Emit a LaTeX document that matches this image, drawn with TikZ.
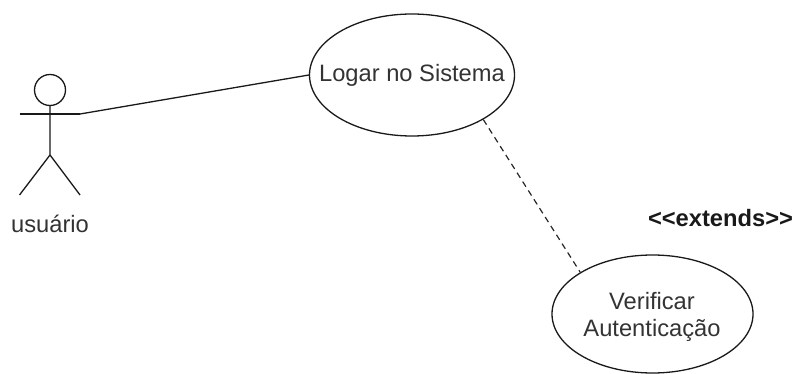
\documentclass[tikz,border=0pt]{standalone}
\usepackage{fontspec}
\usetikzlibrary{shapes.geometric}
\setmainfont{Liberation Sans}
\begin{document}
\begin{tikzpicture}[x=1pt,y=-1pt,
  usecase/.style={draw=black!90,line width=1.3pt,ellipse,inner sep=0pt},
  lbl/.style={font=\fontsize{23.7}{27}\selectfont,text=black!80,align=center},
  limb/.style={draw=black!90,line width=1.3pt}]
\useasboundingbox (0,0) rectangle (795,374);
\node[usecase,minimum width=205pt,minimum height=122pt] (login) at (412,75) {};
\node[lbl] at (login) {Logar no Sistema};
\node[usecase,minimum width=201pt,minimum height=118pt] (auth) at (652.5,314) {};
\node[lbl] at (652,317) {Verificar\\Autenticação};
\node[lbl] (ulbl) at (50,224) {usuário};
\node[lbl,font=\fontsize{23.7}{27}\selectfont\bfseries,text=black!90] (ext) at (720.5,218) {<{}<extends>{}>};
\draw[limb] (50,90) circle (15.5);
\coordinate (neck) at (50,105.5);
\coordinate (hip) at (50,155);
\coordinate (arml) at (19.5,114);
\coordinate (armr) at (80,114);
\coordinate (footl) at (19.5,195);
\coordinate (footr) at (80,195);
\draw[limb] (neck) -- (hip) -- (footl);
\draw[limb] (hip) -- (footr);
\draw[limb] (arml) -- (armr);
\draw[limb] (armr) -- (login.west);
\draw[line width=1.2pt,black!85,dash pattern=on 6pt off 4.5pt] (login.-32) -- (auth.150);
\end{tikzpicture}
\end{document}
